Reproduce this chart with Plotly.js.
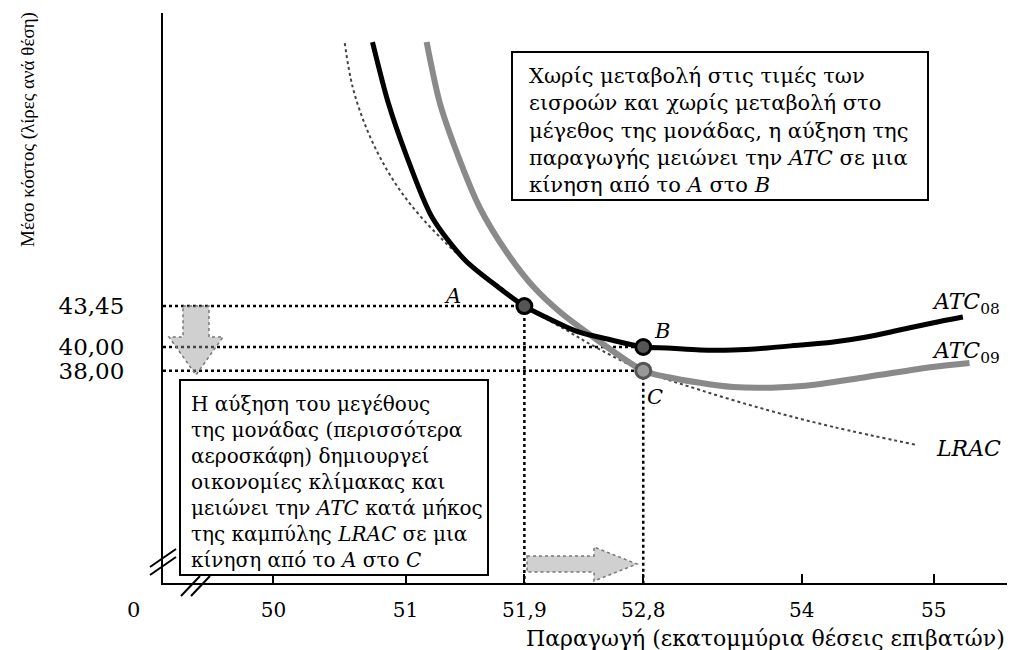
<!DOCTYPE html>
<html><head><meta charset="utf-8">
<script src="https://cdn.plot.ly/plotly-3.0.1.min.js"></script>
<style>html,body{margin:0;padding:0;background:#fff}#chart{width:1015px;height:650px}</style>
</head><body><div id="chart"></div>
<script>
// ---- data ----
const atc08X = [50.75, 50.87, 51.00, 51.20, 51.45, 51.70, 51.90, 52.06, 52.31, 52.56, 52.80, 52.98, 53.23, 53.48, 53.74, 53.99, 54.24, 54.49, 54.74, 54.99, 55.22];
const atc08Y = [65.74, 60.59, 56.37, 50.97, 47.34, 45.06, 43.45, 42.53, 41.27, 40.59, 40.00, 39.92, 39.75, 39.75, 39.92, 40.17, 40.42, 40.84, 41.43, 42.03, 42.53];
const atc09X = [51.16, 51.26, 51.39, 51.56, 51.77, 51.97, 52.17, 52.40, 52.80, 52.98, 53.48, 54.00, 54.49, 54.99, 55.27];
const atc09Y = [65.74, 60.59, 56.37, 51.81, 47.93, 45.06, 42.95, 41.01, 38.00, 37.47, 36.62, 36.71, 37.47, 38.31, 38.65];
const lracX = [50.54, 50.60, 50.71, 50.86, 51.03, 51.26, 51.51, 51.72, 51.90, 52.19, 52.45, 52.80, 53.23, 53.74, 54.24, 54.87];
const lracY = [65.65, 61.94, 58.31, 54.94, 52.15, 49.28, 46.75, 45.06, 43.45, 41.60, 39.92, 38.00, 36.37, 34.68, 33.25, 31.73];
const pointNames = ['A', 'B', 'C'];
const pointX = [51.9, 52.8, 52.8];
const pointY = [43.45, 40.00, 38.00];
const xTickVals = [50, 51, 51.9, 52.8, 54, 55];
const xTickText = ['50', '51', '51,9', '52,8', '54', '55'];
const yTickVals = [43.45, 40.00, 38.00];
const yTickText = ['43,45', '40,00', '38,00'];
const xTitle = 'Παραγωγή (εκατομμύρια θέσεις επιβατών)';
const yTitle = 'Μέσο κόστος (λίρες ανά θέση)';
const boxTop = 'Χωρίς μεταβολή στις τιμές των<br>εισροών και χωρίς μεταβολή στο<br>μέγεθος της μονάδας, η αύξηση της<br>παραγωγής μειώνει την <i>ATC</i> σε μια<br>κίνηση από το <i>A</i> στο <i>B</i>';
const boxBottom = 'Η αύξηση του μεγέθους<br>της μονάδας (περισσότερα<br>αεροσκάφη) δημιουργεί<br>οικονομίες κλίμακας και<br>μειώνει την <i>ATC</i> κατά μήκος<br>της καμπύλης <i>LRAC</i> σε μια<br>κίνηση από το <i>A</i> στο <i>C</i>';

// ---- layout geometry ----
const W = 1015, H = 650, ML = 163, MR = 8, MT = 13, MB = 67;
const PW = W - ML - MR, PH = H - MT - MB;
const xRange = [49.164, 55.554];
const yRange = [20.08, 68.19];
const px = x => (x - ML) / PW;
const py = y => (H - MB - y) / PH;
const SERIF = 'DejaVu Serif, Liberation Serif, serif';

const traces = [];
const guide = {color: '#000', width: 2.5, dash: 'dot'};
pointX.forEach((x, i) => {
  traces.push({x: [xRange[0], x], y: [pointY[i], pointY[i]], mode: 'lines', line: guide, hoverinfo: 'skip', showlegend: false});
});
[0, 2].forEach(i => {
  traces.push({x: [pointX[i], pointX[i]], y: [pointY[i], yRange[0]], mode: 'lines', line: guide, hoverinfo: 'skip', showlegend: false});
});
traces.push({x: lracX, y: lracY, mode: 'lines', line: {color: '#444', width: 2, dash: 'dot', shape: 'spline', smoothing: 1}, showlegend: false, name: 'LRAC'});
traces.push({x: atc09X, y: atc09Y, mode: 'lines', line: {color: '#8a8a8a', width: 6, shape: 'spline', smoothing: 0.8}, showlegend: false, name: 'ATC09'});
traces.push({x: atc08X, y: atc08Y, mode: 'lines', line: {color: '#000', width: 5, shape: 'spline', smoothing: 0.8}, showlegend: false, name: 'ATC08'});
traces.push({x: pointX, y: pointY, mode: 'markers', text: pointNames, showlegend: false,
  marker: {size: 15, color: ['#555', '#555', '#999'], line: {color: ['#000', '#000', '#555'], width: 3}}});

const lbl = (x, y, text, size, extra) => Object.assign({xref: 'paper', yref: 'paper', x: px(x), y: py(y), text, showarrow: false,
  xanchor: 'center', yanchor: 'middle',
  font: {family: SERIF, size: size, color: '#000'}}, extra || {});

const annotations = [
  lbl(133, 610, '0', 21),
  lbl(452, 296, '<i>A</i>', 21),
  lbl(662, 331, '<i>B</i>', 21),
  lbl(655, 397, '<i>C</i>', 21),
  lbl(966, 303, '<i>ATC</i><sub>08</sub>', 22),
  lbl(966, 352, '<i>ATC</i><sub>09</sub>', 22),
  lbl(968, 449, '<i>LRAC</i>', 22),
  lbl(1007, 638, xTitle, 22, {xanchor: 'right'}),
  lbl(28, 130, yTitle, 19, {textangle: -90, font: {family: 'Liberation Serif, serif', size: 19, color: '#000'}}),
  lbl(527, 130, boxTop, 21, {xanchor: 'left', align: 'left'}),
  lbl(189, 482, boxBottom, 20, {xanchor: 'left', align: 'left'})
];

const rect = (x0, y0, x1, y1) => ({type: 'rect', xref: 'paper', yref: 'paper', x0: px(x0), x1: px(x1), y0: py(y0), y1: py(y1),
  line: {color: '#000', width: 2}, fillcolor: '#fff', layer: 'above'});
const seg = (x0, y0, x1, y1) => ({type: 'line', xref: 'paper', yref: 'paper', x0: px(x0), x1: px(x1), y0: py(y0), y1: py(y1),
  line: {color: '#000', width: 2}, layer: 'above'});
const poly = (pts) => ({type: 'path', xref: 'paper', yref: 'paper',
  path: 'M' + pts.map(p => px(p[0]) + ',' + py(p[1])).join(' L') + ' Z',
  fillcolor: 'rgba(150,150,150,0.45)', line: {color: '#777', width: 1.5, dash: 'dot'}, layer: 'above'});

const shapes = [
  rect(512, 52, 928, 200),
  rect(180, 380, 488, 575),
  seg(150, 567, 176, 549), seg(150, 575, 176, 557),
  seg(181, 596, 200, 576), seg(191, 596, 210, 576),
  poly([[183, 306], [209, 306], [209, 337], [223, 337], [196, 375], [169, 337], [183, 337]]),
  poly([[527, 556], [594, 556], [594, 547], [637, 564], [594, 581], [594, 572], [527, 572]])
];

const layout = {
  width: W, height: H,
  margin: {l: ML, r: MR, t: MT, b: MB},
  paper_bgcolor: '#fff', plot_bgcolor: '#fff',
  showlegend: false,
  xaxis: {range: xRange, showgrid: false, zeroline: false, showline: true, linecolor: '#000', linewidth: 2,
    tickvals: xTickVals, ticktext: xTickText, ticks: 'inside', ticklen: 9, tickwidth: 2, tickcolor: '#000',
    ticklabelstandoff: 8, tickfont: {family: SERIF, size: 20, color: '#000'}, fixedrange: true},
  yaxis: {range: yRange, showgrid: false, zeroline: false, showline: true, linecolor: '#000', linewidth: 2,
    tickvals: yTickVals, ticktext: yTickText, ticks: '', ticklabelstandoff: 32,
    tickfont: {family: SERIF, size: 23, color: '#000'}, fixedrange: true},
  annotations, shapes
};

Plotly.newPlot('chart', traces, layout, {displayModeBar: false, staticPlot: true});
</script></body></html>
